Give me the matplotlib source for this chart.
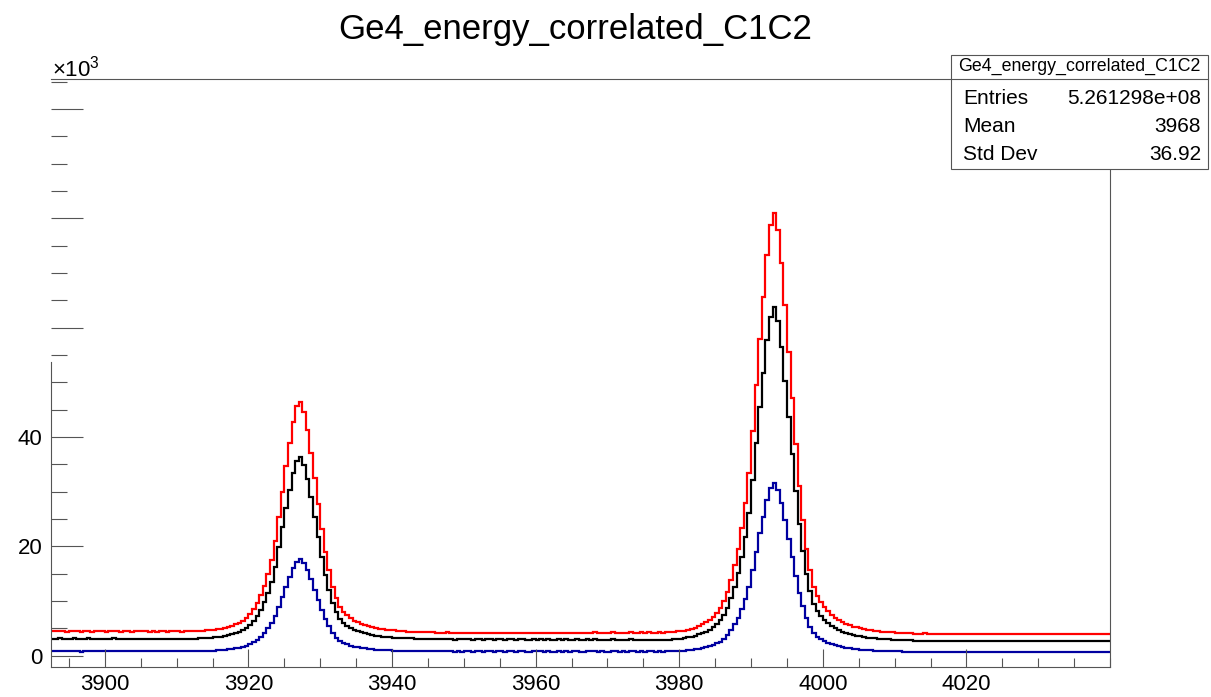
import numpy as np
import matplotlib.pyplot as plt
from matplotlib.ticker import FixedLocator, FixedFormatter, MultipleLocator
from matplotlib.patches import Rectangle
from matplotlib.lines import Line2D

plt.rcParams['font.family'] = ['Liberation Sans', 'DejaVu Sans']
plt.rcParams['mathtext.fontset'] = 'custom'
plt.rcParams['mathtext.rm'] = 'Liberation Sans'

# histogram binning (energy axis)
X_LOW = 3892.5
BIN_WIDTH = 0.5

# bin contents in units of 10^3 counts
red = [
    4.52, 4.44, 4.58, 4.47, 4.41, 4.49, 4.55, 4.46, 4.38, 4.45,
    4.51, 4.42, 4.47, 4.43, 4.50, 4.40, 4.46, 4.53, 4.44, 4.41,
    4.48, 4.45, 4.39, 4.47, 4.43, 4.50, 4.44, 4.40, 4.46, 4.42,
    4.48, 4.44, 4.40, 4.47, 4.43, 4.45, 4.41, 4.46, 4.44, 4.48,
    4.49, 4.53, 4.58, 4.62, 4.66, 4.74, 4.83, 4.95, 5.12, 5.29,
    5.50, 5.75, 6.05, 6.43, 6.89, 7.58, 8.50, 9.68, 11.15, 12.83,
    14.93, 17.45, 21.0, 25.3, 30.0, 34.7, 38.9, 42.8, 45.6,
    46.4,
    44.65, 41.25, 37.05, 32.45, 27.8, 23.1, 18.9, 15.6, 12.62, 10.51,
    8.83, 7.99, 7.36, 6.85, 6.43, 6.09, 5.80, 5.55, 5.34, 5.17,
    5.04, 4.92, 4.83, 4.75, 4.66, 4.61, 4.54, 4.49, 4.43, 4.41,
    4.39, 4.37, 4.33, 4.35, 4.31, 4.28, 4.26, 4.24,
    4.22, 4.18, 4.25, 4.20, 4.15, 4.21, 4.17, 4.24, 4.19, 4.13,
    4.20, 4.23, 4.16, 4.19, 4.22, 4.14, 4.18, 4.21, 4.17, 4.23,
    4.19, 4.15, 4.20, 4.24, 4.18, 4.16, 4.21, 4.19, 4.22, 4.17,
    4.20, 4.14, 4.19, 4.23, 4.18, 4.21, 4.16, 4.20, 4.24, 4.19,
    4.17, 4.22, 4.20, 4.25, 4.18, 4.23, 4.21, 4.19, 4.26, 4.22,
    4.20, 4.24, 4.21, 4.27, 4.23, 4.19, 4.25, 4.22, 4.26, 4.24,
    4.21, 4.27, 4.23, 4.25,
    4.28, 4.35, 4.43, 4.51, 4.58, 4.74, 4.89, 5.12, 5.43, 5.74,
    6.12, 6.58, 7.12, 7.81, 8.66, 9.96, 11.65, 13.81, 16.5, 19.57,
    23.41, 28.02, 33.4, 41.09, 49.54, 58.0, 65.68, 73.37, 78.74,
    81.0,
    77.9, 71.8, 64.1, 55.6, 47.2, 38.7, 31.0, 24.9, 19.5, 15.6,
    12.5, 10.95, 9.8, 8.86, 8.1, 7.47, 6.93, 6.47, 6.09, 5.78,
    5.55, 5.32, 5.16, 5.0, 4.85, 4.69, 4.62, 4.54, 4.46, 4.38,
    4.35, 4.31, 4.27, 4.23, 4.19, 4.15, 4.12, 4.08,
    4.05, 3.98, 4.02, 4.06, 3.97, 4.01, 4.04, 3.99, 3.95, 4.03,
    4.00, 3.96, 4.02, 4.05, 3.98, 4.01, 3.97, 4.03, 3.99, 4.04,
    3.96, 4.00, 4.02, 3.98, 3.95, 4.01, 4.03, 3.97, 3.99, 4.02,
    3.96, 4.00, 3.98, 4.03, 3.97, 3.99, 4.01, 3.95, 3.98, 4.02,
    3.96, 3.99, 4.00, 3.97, 4.01, 3.98, 3.95, 3.99, 4.02, 3.97,
    3.96, 4.00, 3.98, 4.01, 3.99,
]

black = [
    3.14, 3.08, 3.17, 3.11, 3.06, 3.12, 3.16, 3.09, 3.05, 3.11,
    3.15, 3.07, 3.12, 3.09, 3.14, 3.06, 3.10, 3.15, 3.08, 3.07,
    3.12, 3.10, 3.05, 3.11, 3.08, 3.13, 3.09, 3.06, 3.11, 3.08,
    3.12, 3.09, 3.06, 3.11, 3.08, 3.10, 3.07, 3.11, 3.09, 3.12,
    3.13, 3.17, 3.20, 3.23, 3.27, 3.33, 3.40, 3.50, 3.63, 3.77,
    3.93, 4.13, 4.36, 4.66, 5.03, 5.59, 6.33, 7.26, 8.42, 9.75,
    11.41, 13.41, 16.2, 19.8, 23.5, 27.0, 30.4, 33.5, 35.6,
    36.3,
    34.95, 32.29, 28.97, 25.31, 21.65, 17.99, 14.67, 12.0, 9.67, 8.0,
    6.68, 5.99, 5.49, 5.09, 4.76, 4.50, 4.26, 4.06, 3.90, 3.76,
    3.67, 3.57, 3.50, 3.43, 3.37, 3.30, 3.27, 3.23, 3.20, 3.17,
    3.15, 3.13, 3.12, 3.10, 3.08, 3.07, 3.05, 3.03,
    3.02, 2.98, 3.04, 3.00, 2.96, 3.01, 2.97, 3.03, 2.99, 2.94,
    3.00, 3.02, 2.96, 2.99, 3.01, 2.94, 2.98, 3.00, 2.96, 3.02,
    2.98, 2.94, 2.99, 3.01, 2.95, 2.93, 2.98, 2.96, 2.99, 2.94,
    2.97, 2.91, 2.96, 2.99, 2.94, 2.97, 2.92, 2.96, 2.99, 2.95,
    2.93, 2.97, 2.95, 2.99, 2.92, 2.96, 2.94, 2.91, 2.97, 2.94,
    2.92, 2.95, 2.93, 2.97, 2.94, 2.90, 2.95, 2.92, 2.96, 2.93,
    2.91, 2.95, 2.92, 2.94,
    2.96, 3.02, 3.08, 3.14, 3.20, 3.33, 3.45, 3.63, 3.88, 4.12,
    4.42, 4.79, 5.22, 5.76, 6.44, 7.47, 8.81, 10.52, 12.65, 15.09,
    18.14, 21.79, 26.06, 32.16, 38.86, 45.57, 51.66, 57.76, 62.02,
    63.8,
    61.26, 56.39, 50.29, 43.59, 36.88, 30.18, 24.08, 19.21, 14.94, 11.89,
    9.45, 8.24, 7.32, 6.59, 5.98, 5.49, 5.07, 4.70, 4.40, 4.15,
    3.97, 3.79, 3.66, 3.54, 3.42, 3.30, 3.24, 3.18, 3.12, 3.05,
    3.02, 2.99, 2.96, 2.93, 2.90, 2.87, 2.84, 2.81,
    2.74, 2.68, 2.72, 2.76, 2.67, 2.71, 2.74, 2.69, 2.65, 2.73,
    2.70, 2.66, 2.72, 2.75, 2.68, 2.71, 2.67, 2.73, 2.69, 2.74,
    2.66, 2.70, 2.72, 2.68, 2.65, 2.71, 2.73, 2.67, 2.69, 2.72,
    2.66, 2.70, 2.68, 2.73, 2.67, 2.69, 2.71, 2.65, 2.68, 2.72,
    2.66, 2.69, 2.70, 2.67, 2.71, 2.68, 2.65, 2.69, 2.72, 2.67,
    2.66, 2.70, 2.68, 2.71, 2.69,
]

blue = [
    0.82, 0.79, 0.84, 0.80, 0.77, 0.81, 0.83, 0.79, 0.76, 0.80,
    0.82, 0.78, 0.81, 0.79, 0.83, 0.77, 0.80, 0.82, 0.78, 0.79,
    0.81, 0.80, 0.77, 0.80, 0.78, 0.82, 0.79, 0.77, 0.81, 0.79,
    0.82, 0.80, 0.78, 0.81, 0.79, 0.80, 0.78, 0.81, 0.79, 0.81,
    0.82, 0.83, 0.85, 0.87, 0.88, 0.92, 0.95, 1.00, 1.07, 1.14,
    1.22, 1.32, 1.44, 1.59, 1.78, 2.07, 2.44, 2.91, 3.50, 4.18,
    5.03, 6.04, 7.22, 8.91, 10.77, 12.63, 14.32, 16.01, 17.19,
    17.7,
    17.0, 15.65, 13.96, 12.10, 10.24, 8.39, 6.70, 5.34, 4.16, 3.32,
    2.64, 2.30, 2.05, 1.84, 1.68, 1.54, 1.42, 1.32, 1.24, 1.17,
    1.12, 1.07, 1.03, 1.00, 0.97, 0.93, 0.92, 0.90, 0.88, 0.86,
    0.86, 0.85, 0.84, 0.83, 0.82, 0.81, 0.81, 0.80,
    0.80, 0.77, 0.81, 0.78, 0.75, 0.79, 0.76, 0.80, 0.78, 0.74,
    0.78, 0.80, 0.76, 0.77, 0.79, 0.74, 0.77, 0.79, 0.76, 0.80,
    0.77, 0.75, 0.78, 0.80, 0.76, 0.74, 0.78, 0.77, 0.79, 0.75,
    0.77, 0.73, 0.76, 0.79, 0.75, 0.77, 0.74, 0.78, 0.80, 0.76,
    0.75, 0.78, 0.77, 0.80, 0.75, 0.78, 0.76, 0.74, 0.79, 0.77,
    0.75, 0.78, 0.76, 0.79, 0.77, 0.74, 0.78, 0.76, 0.79, 0.77,
    0.75, 0.78, 0.76, 0.78,
    0.81, 0.84, 0.87, 0.90, 0.93, 1.00, 1.06, 1.15, 1.27, 1.40,
    1.55, 1.74, 1.95, 2.23, 2.57, 3.09, 3.77, 4.64, 5.72, 6.95,
    8.49, 10.34, 12.50, 15.59, 18.98, 22.38, 25.46, 28.55, 30.70,
    31.6,
    30.32, 27.85, 24.76, 21.37, 17.98, 14.58, 11.50, 9.03, 6.87, 5.33,
    4.09, 3.48, 3.01, 2.64, 2.34, 2.09, 1.87, 1.69, 1.53, 1.41,
    1.32, 1.22, 1.16, 1.10, 1.04, 0.98, 0.95, 0.92, 0.89, 0.85,
    0.84, 0.82, 0.81, 0.79, 0.78, 0.76, 0.75, 0.73,
    0.70, 0.66, 0.69, 0.72, 0.65, 0.68, 0.71, 0.67, 0.64, 0.70,
    0.68, 0.65, 0.69, 0.71, 0.66, 0.68, 0.65, 0.70, 0.67, 0.71,
    0.64, 0.68, 0.69, 0.66, 0.64, 0.68, 0.70, 0.65, 0.67, 0.69,
    0.64, 0.68, 0.66, 0.70, 0.65, 0.67, 0.68, 0.63, 0.66, 0.69,
    0.64, 0.67, 0.68, 0.65, 0.68, 0.66, 0.63, 0.67, 0.69, 0.65,
    0.64, 0.68, 0.66, 0.68, 0.67,
]

x_major = [3900, 3920, 3940, 3960, 3980, 4000, 4020]
y_major = [0, 20, 40, 60, 80, 100]
y_labels = ['0', '20', '40', '', '', '']

hist_name = 'Ge4_energy_correlated_C1C2'
stats = [('Entries', '5.261298e+08'), ('Mean', '3968'), ('Std Dev', '36.92')]

W, H = 1211, 697
AXIS_COL = '#555555'

fig = plt.figure(figsize=(W / 100, H / 100), dpi=100)
ax = fig.add_axes([51 / W, 1 - 667 / H, (1110 - 51) / W, (667 - 79) / H])

edges = X_LOW + BIN_WIDTH * np.arange(len(red) + 1)
ax.stairs(red, edges, baseline=None, color='#ff0000', lw=1.6)
ax.stairs(black, edges, baseline=None, color='black', lw=1.6)
ax.stairs(blue, edges, baseline=None, color='#0000a0', lw=1.6)

ax.set_xlim(X_LOW, 4040)
ax.set_ylim(-2.07, 105.5)

ax.xaxis.set_major_locator(FixedLocator(x_major))
ax.xaxis.set_minor_locator(MultipleLocator(5))
ax.yaxis.set_major_locator(FixedLocator(y_major))
ax.yaxis.set_major_formatter(FixedFormatter(y_labels))
ax.yaxis.set_minor_locator(MultipleLocator(5))

ax.tick_params(axis='x', which='major', direction='in', length=12.7, width=0.8,
               color=AXIS_COL, labelsize=16, pad=5, top=False)
ax.tick_params(axis='x', which='minor', direction='in', length=6.3, width=0.8,
               color=AXIS_COL, top=False)
ax.tick_params(axis='y', which='major', direction='in', length=23, width=0.8,
               color=AXIS_COL, labelsize=16, pad=6, right=False)
ax.tick_params(axis='y', which='minor', direction='in', length=11.5, width=0.8,
               color=AXIS_COL, right=False)

for s in ax.spines.values():
    s.set_color(AXIS_COL)
    s.set_linewidth(0.8)
ax.spines['left'].set_bounds(-2.07, 53.8)

fig.text(52 / W, 1 - 77 / H, '×10$^{3}$', fontsize=16, va='baseline', ha='left')
fig.text(575 / W, 1 - 30 / H, hist_name, fontsize=25, ha='center', va='center')

# stats box
bx0, bx1, by0, by1, bsep = 951, 1208, 55, 169, 79
fig.add_artist(Rectangle((bx0 / W, 1 - by1 / H), (bx1 - bx0) / W, (by1 - by0) / H,
                         transform=fig.transFigure, facecolor='white',
                         edgecolor=AXIS_COL, lw=0.8, zorder=5))
fig.add_artist(Line2D([bx0 / W, bx1 / W], [1 - bsep / H, 1 - bsep / H],
                      transform=fig.transFigure, color=AXIS_COL, lw=0.8, zorder=6))
fig.text((bx0 + bx1) / 2 / W, 1 - 66 / H, hist_name, fontsize=12.8,
         ha='center', va='center', zorder=7)
for j, (lab, val) in enumerate(stats):
    yc = 1 - (98 + 28.5 * j) / H
    fig.text(963 / W, yc, lab, fontsize=15, ha='left', va='center', zorder=7)
    fig.text(1201 / W, yc, val, fontsize=15, ha='right', va='center', zorder=7)

fig.savefig('out.png', dpi=100)
